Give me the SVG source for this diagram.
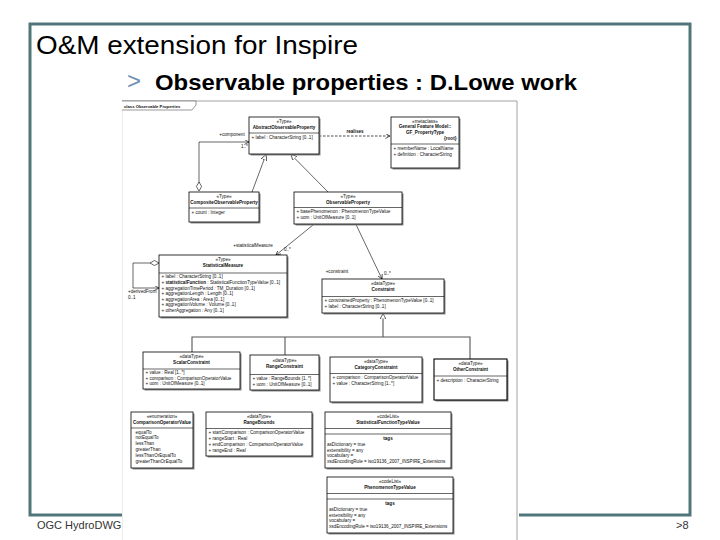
<svg xmlns="http://www.w3.org/2000/svg" width="720" height="540" viewBox="0 0 720 540">
<style>
.slide{fill:#fff;stroke:#50767b;stroke-width:3}
.title{font-family:"Liberation Sans",Arial,sans-serif;font-size:25px;fill:#000}
.sub{font-family:"Liberation Sans",Arial,sans-serif;font-size:22px;font-weight:bold;fill:#000}
.bullet{font-family:"Liberation Sans",Arial,sans-serif;font-size:24px;fill:#6d8fb4}
.foot{font-family:"Liberation Sans",Arial,sans-serif;font-size:11px;fill:#333}
.t{font-family:"Liberation Sans",Arial,sans-serif;font-size:4.6px;fill:#111}
.c{text-anchor:middle}
.b{font-weight:bold}
.r{text-anchor:end}
.box{fill:#fff;stroke:#000;stroke-width:0.8}
.sh{fill:#8a8a8a}
.sep{stroke:#000;stroke-width:0.6}
.ln{fill:none;stroke:#000;stroke-width:0.6}
.gen{fill:none;stroke:#555;stroke-width:1.1}
.dash{fill:none;stroke:#000;stroke-width:0.7;stroke-dasharray:2.5,1.5}
.tri{fill:#fff;stroke:#000;stroke-width:0.6}
.dia{fill:#fff;stroke:#000;stroke-width:0.6}
.fdia{fill:#000;stroke:#000;stroke-width:0.6}
</style>
<defs>
<marker id="open" viewBox="0 0 8 8" refX="7.5" refY="4" markerWidth="5" markerHeight="5" orient="auto" markerUnits="userSpaceOnUse"><path d="M0,0 L7.5,4 L0,8" fill="none" stroke="#000" stroke-width="1"/></marker>
<marker id="tri" viewBox="0 0 10 10" refX="9.5" refY="5" markerWidth="6" markerHeight="6" orient="auto" markerUnits="userSpaceOnUse"><path d="M0,0 L9.5,5 L0,10 Z" fill="#fff" stroke="#000" stroke-width="1"/></marker>
<marker id="fdia" viewBox="0 0 12 6" refX="0" refY="3" markerWidth="9" markerHeight="4.5" orient="auto-start-reverse" markerUnits="userSpaceOnUse"><path d="M0,3 L6,0 L12,3 L6,6 Z" fill="#000"/></marker>
</defs>

<!-- slide -->
<rect class="slide" x="30" y="24" width="660" height="491"/>
<text class="title" x="36" y="54" textLength="322" lengthAdjust="spacingAndGlyphs">O&amp;M extension for Inspire</text>
<text class="bullet" x="127" y="89">&gt;</text>
<text class="sub" x="155" y="90" textLength="422" lengthAdjust="spacingAndGlyphs">Observable properties : D.Lowe work</text>
<text class="foot" x="37" y="529">OGC HydroDWG C</text>
<text class="foot" x="676" y="529">&gt;8</text>

<!-- embedded diagram image area -->
<rect x="122" y="98" width="397" height="442" fill="#fff"/>
<line x1="122" y1="101" x2="517" y2="101" stroke="#8a8a8a" stroke-width="0.8"/>
<line x1="517" y1="101" x2="517" y2="540" stroke="#8a8a8a" stroke-width="0.8"/>
<line x1="122.5" y1="101" x2="122.5" y2="540" stroke="#e0e0e0" stroke-width="0.6"/>
<path d="M122,101 H196 V105 L192,110 H122" fill="#fff" stroke="#333" stroke-width="0.5"/>
<text class="t b" x="124" y="107.5" style="font-size:4.2px">class Observable Properties</text>

<!-- connectors -->
<g id="connectors">
  <path class="dash" d="M319,136 H390" marker-end="url(#open)"/>
  <text class="t c b" x="355" y="132.5">realises</text>

  <path class="ln" d="M199,183 V142 H249" marker-end="url(#open)"/>
  <path class="dia" d="M199,182 L201.6,186.5 L199,191 L196.4,186.5 Z"/>
  <text class="t c" x="232" y="136">+component</text>
  <text class="t" x="241" y="148">1..*</text>

  <path class="ln" d="M252,192 L266,154.5" marker-end="url(#tri)"/>
  <path class="ln" d="M328,192 L291,154.5" marker-end="url(#tri)"/>

  <path class="ln" d="M313,225 L276,255" marker-start="url(#fdia)" marker-end="url(#open)"/>
  <text class="t c" x="253" y="247">+statisticalMeasure</text>
  <text class="t" x="284" y="251">0..*</text>

  <path class="ln" d="M356,224.5 L382,279" marker-start="url(#fdia)" marker-end="url(#open)"/>
  <text class="t c" x="337" y="273">+constraint</text>
  <text class="t" x="384" y="274.5">0..*</text>

  <path class="ln" d="M150,263 H133 V288 H159" marker-end="url(#open)"/>
  <path class="dia" d="M159,263 L154.5,260.5 L150,263 L154.5,265.5 Z"/>
  <text class="t" x="128" y="293">+derivedFrom</text>
  <text class="t" x="128" y="299">0..1</text>

  <path class="gen" d="M383,337 V313.5" marker-end="url(#tri)"/>
  <path class="gen" d="M192,352 V337 H470 V359"/>
  <path class="gen" d="M285,337 V355"/>
</g>

<g id="AbstractObservableProperty">
  <rect class="sh" x="250.5" y="118.5" width="70" height="37"/>
  <rect class="box" x="249" y="117" width="70" height="37"/>
  <text class="t c" x="284" y="123">«Type»</text>
  <text class="t c b" x="284" y="128.8">AbstractObservableProperty</text>
  <line class="sep" x1="249" y1="133" x2="319" y2="133"/>
  <text class="t" x="251.5" y="139">+   label : CharacterString [0..1]</text>
</g>

<g id="GF_PropertyType">
  <rect class="sh" x="392.5" y="118.5" width="68" height="51"/>
  <rect class="box" x="391" y="117" width="68" height="51"/>
  <text class="t c" x="425" y="123">«metaclass»</text>
  <text class="t c b" x="425" y="128.3">General Feature Model::</text>
  <text class="t c b" x="425" y="133.6">GF_PropertyType</text>
  <text class="t r b" x="456.5" y="139.5">{root}</text>
  <line class="sep" x1="391" y1="144" x2="459" y2="144"/>
  <text class="t" x="393.5" y="150">+   memberName : LocalName</text>
  <text class="t" x="393.5" y="156">+   definition : CharacterString</text>
</g>

<g id="CompositeObservableProperty">
  <rect class="sh" x="190.5" y="193.5" width="70" height="30"/>
  <rect class="box" x="189" y="192" width="70" height="30"/>
  <text class="t c" x="224" y="198">«Type»</text>
  <text class="t c b" x="224" y="204">CompositeObservableProperty</text>
  <line class="sep" x1="189" y1="208" x2="259" y2="208"/>
  <text class="t" x="191.5" y="214">+   count : Integer</text>
</g>

<g id="ObservableProperty">
  <rect class="sh" x="295.5" y="193.5" width="108" height="32"/>
  <rect class="box" x="294" y="192" width="108" height="32"/>
  <text class="t c" x="348" y="198">«Type»</text>
  <text class="t c b" x="348" y="204">ObservableProperty</text>
  <line class="sep" x1="294" y1="207.5" x2="402" y2="207.5"/>
  <text class="t" x="296.5" y="213">+   basePhenomenon : PhenomenonTypeValue</text>
  <text class="t" x="296.5" y="219">+   uom : UnitOfMeasure [0..1]</text>
</g>

<g id="StatisticalMeasure">
  <rect class="sh" x="160.5" y="256.5" width="128" height="62"/>
  <rect class="box" x="159" y="255" width="128" height="62"/>
  <text class="t c" x="223" y="261">«Type»</text>
  <text class="t c b" x="223" y="267">StatisticalMeasure</text>
  <line class="sep" x1="159" y1="273" x2="287" y2="273"/>
  <text class="t" x="161.5" y="278.3">+   label : CharacterString [0..1]</text>
  <text class="t" x="161.5" y="283.9">+   <tspan class="b">statisticalFunction</tspan> : StatisticalFunctionTypeValue [0..1]</text>
  <text class="t" x="161.5" y="289.5">+   aggregationTimePeriod : TM_Duration [0..1]</text>
  <text class="t" x="161.5" y="295.1">+   aggregationLength : Length [0..1]</text>
  <text class="t" x="161.5" y="300.7">+   aggregationArea : Area [0..1]</text>
  <text class="t" x="161.5" y="306.3">+   aggregationVolume : Volume [0..1]</text>
  <text class="t" x="161.5" y="311.9">+   otherAggregation : Any [0..1]</text>
</g>

<g id="Constraint">
  <rect class="sh" x="323.5" y="280.5" width="122" height="34"/>
  <rect class="box" x="322" y="279" width="122" height="34"/>
  <text class="t c" x="383" y="285">«dataType»</text>
  <text class="t c b" x="383" y="291">Constraint</text>
  <line class="sep" x1="322" y1="296.5" x2="444" y2="296.5"/>
  <text class="t" x="324.5" y="302">+   constrainedProperty : PhenomenonTypeValue [0..1]</text>
  <text class="t" x="324.5" y="308">+   label : CharacterString [0..1]</text>
</g>

<g id="ScalarConstraint">
  <rect class="sh" x="144.5" y="353.5" width="97" height="37"/>
  <rect class="box" x="143" y="352" width="97" height="37"/>
  <text class="t c" x="191.5" y="358">«dataType»</text>
  <text class="t c b" x="191.5" y="364">ScalarConstraint</text>
  <line class="sep" x1="143" y1="369" x2="240" y2="369"/>
  <text class="t" x="145.5" y="374">+   value : Real [1..*]</text>
  <text class="t" x="145.5" y="379.5">+   comparison : ComparisonOperatorValue</text>
  <text class="t" x="145.5" y="385">+   uom : UnitOfMeasure [0..1]</text>
</g>

<g id="RangeConstraint">
  <rect class="sh" x="251.5" y="356.5" width="69" height="35"/>
  <rect class="box" x="250" y="355" width="69" height="35"/>
  <text class="t c" x="284.5" y="361.5">«dataType»</text>
  <text class="t c b" x="284.5" y="367.5">RangeConstraint</text>
  <line class="sep" x1="250" y1="374.5" x2="319" y2="374.5"/>
  <text class="t" x="252.5" y="380">+   value : RangeBounds [1..*]</text>
  <text class="t" x="252.5" y="386">+   uom : UnitOfMeasure [0..1]</text>
</g>

<g id="CategoryConstraint">
  <rect class="sh" x="331.5" y="358.5" width="92" height="45"/>
  <rect class="box" x="330" y="357" width="92" height="45"/>
  <text class="t c" x="376" y="363">«dataType»</text>
  <text class="t c b" x="376" y="369">CategoryConstraint</text>
  <line class="sep" x1="330" y1="373.5" x2="422" y2="373.5"/>
  <text class="t" x="332.5" y="379">+   comparison : ComparisonOperatorValue</text>
  <text class="t" x="332.5" y="385">+   value : CharacterString [1..*]</text>
</g>

<g id="OtherConstraint">
  <rect class="sh" x="435.5" y="360.5" width="73" height="41"/>
  <rect class="box" x="434" y="359" width="73" height="41" style="stroke-width:1.1"/>
  <text class="t c" x="470.5" y="365">«dataType»</text>
  <text class="t c b" x="470.5" y="371">OtherConstraint</text>
  <line class="sep" x1="434" y1="376" x2="507" y2="376"/>
  <text class="t" x="436.5" y="382">+   description : CharacterString</text>
</g>

<g id="ComparisonOperatorValue">
  <rect class="sh" x="132.5" y="413.5" width="62" height="56"/>
  <rect class="box" x="131" y="412" width="62" height="56"/>
  <text class="t c" x="162" y="418">«enumeration»</text>
  <text class="t c b" x="162" y="424">ComparisonOperatorValue</text>
  <line class="sep" x1="131" y1="428" x2="193" y2="428"/>
  <text class="t" x="135.5" y="433.5">equalTo</text>
  <text class="t" x="135.5" y="439.3">notEqualTo</text>
  <text class="t" x="135.5" y="445.1">lessThan</text>
  <text class="t" x="135.5" y="450.9">greaterThan</text>
  <text class="t" x="135.5" y="456.7">lessThanOrEqualTo</text>
  <text class="t" x="135.5" y="462.5">greaterThanOrEqualTo</text>
</g>

<g id="RangeBounds">
  <rect class="sh" x="207.5" y="413.5" width="106" height="44"/>
  <rect class="box" x="206" y="412" width="106" height="44"/>
  <text class="t c" x="259" y="418">«dataType»</text>
  <text class="t c b" x="259" y="424">RangeBounds</text>
  <line class="sep" x1="206" y1="428.5" x2="312" y2="428.5"/>
  <text class="t" x="208.5" y="434">+   startComparison : ComparisonOperatorValue</text>
  <text class="t" x="208.5" y="440">+   rangeStart : Real</text>
  <text class="t" x="208.5" y="446">+   endComparison : ComparisonOperatorValue</text>
  <text class="t" x="208.5" y="452">+   rangeEnd : Real</text>
</g>

<g id="StatisticalFunctionTypeValue">
  <rect class="sh" x="326.5" y="413.5" width="126" height="56"/>
  <rect class="box" x="325" y="412" width="126" height="56"/>
  <text class="t c" x="388" y="418">«codeList»</text>
  <text class="t c b" x="388" y="423.5">StatisticalFunctionTypeValue</text>
  <line class="sep" x1="325" y1="428.5" x2="451" y2="428.5"/>
  <line class="sep" x1="325" y1="434" x2="451" y2="434"/>
  <text class="t c b" x="388" y="440">tags</text>
  <text class="t" x="327" y="446">asDictionary = true</text>
  <text class="t" x="327" y="451.5">extensibility = any</text>
  <text class="t" x="327" y="457">vocabulary = </text>
  <text class="t" x="327" y="462.5">xsdEncodingRule = iso19136_2007_INSPIRE_Extensions</text>
</g>

<g id="PhenomenonTypeValue">
  <rect class="sh" x="328.5" y="478.5" width="126" height="56"/>
  <rect class="box" x="327" y="477" width="126" height="56"/>
  <text class="t c" x="390" y="483">«codeList»</text>
  <text class="t c b" x="390" y="488.5">PhenomenonTypeValue</text>
  <line class="sep" x1="327" y1="493.5" x2="453" y2="493.5"/>
  <line class="sep" x1="327" y1="499" x2="453" y2="499"/>
  <text class="t c b" x="390" y="505">tags</text>
  <text class="t" x="329" y="511">asDictionary = true</text>
  <text class="t" x="329" y="516.5">extensibility = any</text>
  <text class="t" x="329" y="522">vocabulary = </text>
  <text class="t" x="329" y="527.5">xsdEncodingRule = iso19136_2007_INSPIRE_Extensions</text>
</g>
</svg>
